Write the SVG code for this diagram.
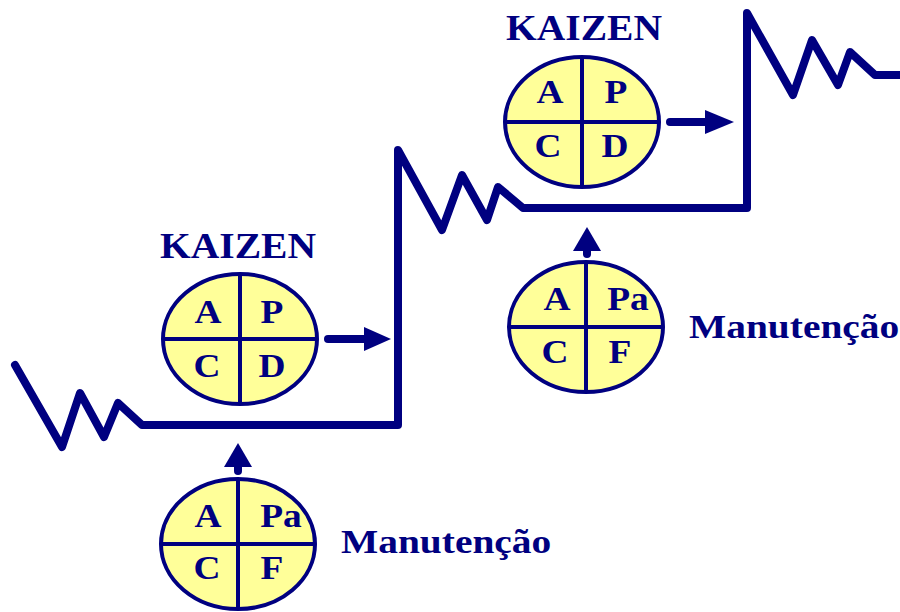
<svg xmlns="http://www.w3.org/2000/svg" width="900" height="612" viewBox="0 0 900 612">
  <defs>
    <style>
      .step { fill: none; stroke: #000080; stroke-width: 8; stroke-linejoin: round; stroke-linecap: round; }
      .shaft { fill: none; stroke: #000080; stroke-width: 8; stroke-linecap: round; }
      .head { fill: #000080; }
      .disc { fill: #FFFF99; stroke: #000080; stroke-width: 4; }
      .cross { stroke: #000080; stroke-width: 4; }
      .q { font-family: "Liberation Serif", "Times New Roman", serif; font-weight: bold; font-size: 34px; fill: #000080; text-anchor: middle; }
      .title { font-family: "Liberation Serif", "Times New Roman", serif; font-weight: bold; font-size: 35px; fill: #000080; }
      .label { font-family: "Liberation Serif", "Times New Roman", serif; font-weight: bold; font-size: 34px; fill: #000080; }
    </style>
  </defs>

  <!-- staircase of improvement levels -->
  <g id="connectors">
    <polyline class="step" points="15,365 62,447 80,393 104,437 118,403 142,425 398,425 398,150 442,230 462,175 487,220 498,187 523,208 747,208 747,13 793,95 812,40 838,85 850,52 875,75 904,75"/>
    <!-- KAIZEN arrows pointing to the next step -->
    <line class="shaft" x1="328" y1="339" x2="368" y2="339"/>
    <polygon class="head" points="364,327 391,339 364,351"/>
    <line class="shaft" x1="670" y1="122" x2="710" y2="122"/>
    <polygon class="head" points="705,110 734,122 705,134"/>
    <!-- maintenance arrows holding the level -->
    <line class="shaft" x1="238" y1="462" x2="238" y2="471"/>
    <polygon class="head" points="224,467 238,443 252,467"/>
    <line class="shaft" x1="587" y1="246" x2="587" y2="254"/>
    <polygon class="head" points="573,251 587,227 601,251"/>
  </g>

  <!-- lower KAIZEN cycle -->
  <g id="kaizen1">
    <text class="title" transform="translate(160,258) scale(1.13,1)">KAIZEN</text>
    <ellipse class="disc" cx="240" cy="339" rx="77" ry="65"/>
    <line class="cross" x1="163" y1="339" x2="317" y2="339"/>
    <line class="cross" x1="240" y1="274" x2="240" y2="404"/>
    <text class="q" transform="translate(208,323) scale(1.1,1)">A</text>
    <text class="q" transform="translate(272,323) scale(1.1,1)">P</text>
    <text class="q" transform="translate(207,377) scale(1.1,1)">C</text>
    <text class="q" transform="translate(272,377) scale(1.1,1)">D</text>
  </g>

  <!-- lower maintenance cycle -->
  <g id="manutencao1">
    <ellipse class="disc" cx="238" cy="544" rx="77" ry="65"/>
    <line class="cross" x1="161" y1="544" x2="315" y2="544"/>
    <line class="cross" x1="238" y1="479" x2="238" y2="609"/>
    <text class="q" transform="translate(208,527) scale(1.1,1)">A</text>
    <text class="q" transform="translate(281,527) scale(1.1,1)">Pa</text>
    <text class="q" transform="translate(207,579) scale(1.1,1)">C</text>
    <text class="q" transform="translate(272,579) scale(1.1,1)">F</text>
    <text class="label" transform="translate(341,553) scale(1.16,1)">Manutenção</text>
  </g>

  <!-- upper KAIZEN cycle -->
  <g id="kaizen2">
    <text class="title" transform="translate(506,40) scale(1.13,1)">KAIZEN</text>
    <ellipse class="disc" cx="582" cy="122" rx="77" ry="65"/>
    <line class="cross" x1="505" y1="122" x2="659" y2="122"/>
    <line class="cross" x1="582" y1="57" x2="582" y2="187"/>
    <text class="q" transform="translate(550,103) scale(1.1,1)">A</text>
    <text class="q" transform="translate(616,103) scale(1.1,1)">P</text>
    <text class="q" transform="translate(548,157) scale(1.1,1)">C</text>
    <text class="q" transform="translate(615,157) scale(1.1,1)">D</text>
  </g>

  <!-- upper maintenance cycle -->
  <g id="manutencao2">
    <ellipse class="disc" cx="586" cy="327" rx="77" ry="65"/>
    <line class="cross" x1="509" y1="327" x2="663" y2="327"/>
    <line class="cross" x1="586" y1="262" x2="586" y2="392"/>
    <text class="q" transform="translate(557,310) scale(1.1,1)">A</text>
    <text class="q" transform="translate(628,310) scale(1.1,1)">Pa</text>
    <text class="q" transform="translate(555,363) scale(1.1,1)">C</text>
    <text class="q" transform="translate(620,363) scale(1.1,1)">F</text>
    <text class="label" transform="translate(689,338) scale(1.16,1)">Manutenção</text>
  </g>
</svg>
